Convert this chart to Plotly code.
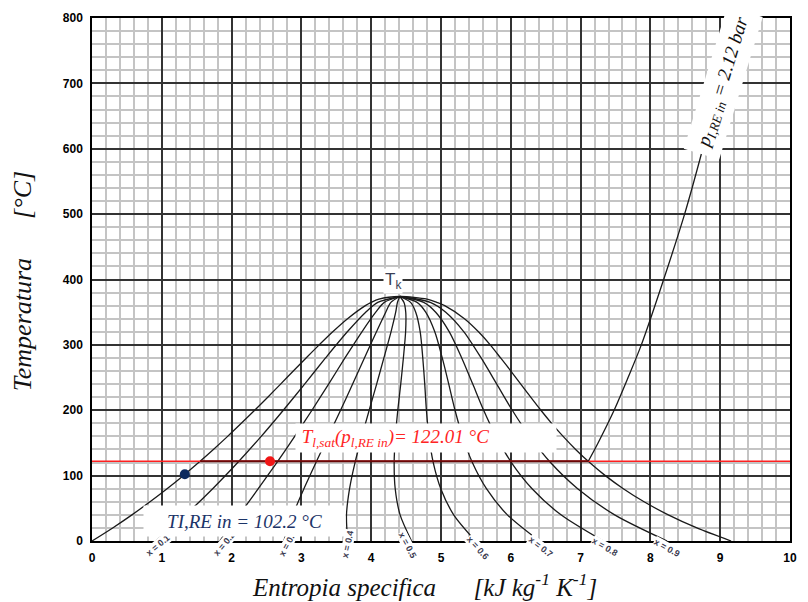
import plotly.graph_objects as go

# ---------------- DATA ----------------
# Saturation curve of water (T in degC, s in kJ/kg/K)
T_sat = [0, 20, 40, 60, 80, 100, 120, 140, 160, 180, 200, 220, 240, 260, 280,
         300, 320, 340, 360, 365, 370, 374]
s_liq = [0.0, 0.296, 0.572, 0.831, 1.075, 1.307, 1.528, 1.739, 1.943, 2.139, 2.331,
         2.518, 2.702, 2.884, 3.067, 3.255, 3.449, 3.661, 3.916, 4.00, 4.11, 4.41]
s_vap = [9.156, 8.666, 8.256, 7.909, 7.612, 7.354, 7.129, 6.929, 6.750, 6.585, 6.431,
         6.285, 6.143, 6.001, 5.854, 5.705, 5.537, 5.336, 5.053, 4.94, 4.80, 4.41]

# Constant-quality lines (x = 0.1 ... 0.9)
T_q = [0, 40, 80, 120, 160, 200, 240, 280, 320, 350, 365, 374]
quality_names = ["x = 0.1", "x = 0.2", "x = 0.3", "x = 0.4", "x = 0.5",
                 "x = 0.6", "x = 0.7", "x = 0.8", "x = 0.9"]
s_q01 = [0.916, 1.340, 1.729, 2.088, 2.424, 2.741, 3.046, 3.346, 3.658, 3.921, 4.094, 4.41]
s_q02 = [1.831, 2.109, 2.382, 2.648, 2.904, 3.151, 3.390, 3.624, 3.867, 4.065, 4.188, 4.41]
s_q03 = [2.747, 2.877, 3.036, 3.208, 3.385, 3.561, 3.734, 3.903, 4.075, 4.208, 4.282, 4.41]
s_q04 = [3.662, 3.646, 3.690, 3.768, 3.866, 3.971, 4.078, 4.182, 4.284, 4.351, 4.376, 4.41]
s_q05 = [4.578, 4.414, 4.344, 4.329, 4.347, 4.381, 4.423, 4.461, 4.493, 4.495, 4.470, 4.41]
s_q06 = [5.494, 5.182, 4.997, 4.889, 4.827, 4.791, 4.767, 4.739, 4.702, 4.638, 4.564, 4.41]
s_q07 = [6.409, 5.951, 5.651, 5.449, 5.308, 5.201, 5.111, 5.018, 4.911, 4.781, 4.658, 4.41]
s_q08 = [7.325, 6.719, 6.305, 6.009, 5.789, 5.611, 5.455, 5.297, 5.119, 4.924, 4.752, 4.41]
s_q09 = [8.240, 7.488, 6.958, 6.569, 6.270, 6.021, 5.799, 5.575, 5.328, 5.068, 4.846, 4.41]
quality_lines = [s_q01, s_q02, s_q03, s_q04, s_q05, s_q06, s_q07, s_q08, s_q09]

# Isobar p = 2.12 bar
T_boil = 122.01
s_boil_liq = 1.55
s_boil_vap = 7.11
T_iso = [122.01, 150, 200, 250, 300, 400, 500, 600, 700, 800]
s_iso = [7.11, 7.25, 7.48, 7.68, 7.87, 8.19, 8.49, 8.75, 8.99, 9.22]

# Marked states
s_red, T_red = 2.55, 122.01
s_blue, T_blue = 1.33, 102.2

x_ticks = [0, 1, 2, 3, 4, 5, 6, 7, 8, 9, 10]
y_ticks = [0, 100, 200, 300, 400, 500, 600, 700, 800]

# ---------------- FIGURE ----------------
fig = go.Figure()
line_style = dict(color="#1a1a1a", width=1.3)

# Dome
fig.add_trace(go.Scatter(x=s_liq + s_vap[::-1][1:], y=T_sat + T_sat[::-1][1:],
                         mode="lines", line=dict(shape="spline", smoothing=0.8, **line_style),
                         hoverinfo="skip"))
for s_line, name in zip(quality_lines, quality_names):
    fig.add_trace(go.Scatter(x=s_line, y=T_q, mode="lines", name=name,
                             line=dict(shape="spline", smoothing=0.8, **line_style)))

# Red saturation-temperature line
fig.add_trace(go.Scatter(x=[0, 10], y=[T_boil, T_boil], mode="lines",
                         line=dict(color="#ff2020", width=1.3)))
# Isobar: evaporation segment + superheated
fig.add_trace(go.Scatter(x=[s_boil_liq, s_boil_vap], y=[T_boil, T_boil], mode="lines",
                         line=dict(color="#6a0808", width=2)))
fig.add_trace(go.Scatter(x=s_iso, y=T_iso, mode="lines",
                         line=dict(shape="spline", smoothing=0.8, **line_style)))

# Points
fig.add_trace(go.Scatter(x=[s_red], y=[T_red], mode="markers",
                         marker=dict(color="#f01515", size=10)))
fig.add_trace(go.Scatter(x=[s_blue], y=[T_blue], mode="markers",
                         marker=dict(color="#0c2a5e", size=10)))

serif = "Liberation Serif"

ann = []
# quality labels just below the bottom axis (x in data units, y in paper units)
q_pos = [(0.95, -0.008, -40), (1.89, -0.005, -50), (2.81, -0.004, -62), (3.66, -0.005, -78),
         (4.52, -0.007, 62), (5.53, -0.013, 48), (6.43, -0.011, 38), (7.35, -0.011, 30),
         (8.24, -0.013, 29)]
for (xq, yq, ang), name in zip(q_pos, quality_names):
    ann.append(dict(x=xq, y=yq, xref="x", yref="paper", text=name, showarrow=False,
                    textangle=ang, xanchor="center", yanchor="middle",
                    font=dict(family="Liberation Sans", size=9, color="#3a3a50", weight="bold"),
                    bgcolor="white", borderpad=0))

ann += [
    dict(x=4.31, y=397, text="T<sub>k</sub>", showarrow=False,
         font=dict(family="Liberation Sans", size=17, color="#3b3f55"), bgcolor="white", borderpad=1),
    dict(x=4.79, y=157, text="<i>\u00a0T<sub>l,sat</sub>(p<sub>l,RE in</sub>)= 122.01 °C</i>",
         showarrow=False, width=258, height=26, align="left", bgcolor="white",
         font=dict(family=serif, size=19, color="#ff2424")),
    dict(x=2.19, y=31, text="<i>TI,RE in = 102.2 °C</i>", showarrow=False,
         width=199, height=28, bgcolor="white",
         font=dict(family=serif, size=19, color="#1c3468")),
    dict(x=9.04, y=701, text="<i>p<sub>I,RE in</sub> = 2.12 bar</i>", showarrow=False,
         textangle=-73, bgcolor="white", borderpad=6,
         font=dict(family=serif, size=19, color="#111")),
    dict(xref="paper", yref="paper", x=0.476, y=-0.084, yanchor="middle",
         text="<i>Entropia specifica" + "\u00a0" * 6 + "[kJ kg<sup>-1</sup> K<sup>-1</sup>]</i>",
         showarrow=False, font=dict(family=serif, size=25, color="#111")),
    dict(xref="paper", yref="paper", x=-0.1, y=0.497, xanchor="center", yanchor="middle",
         text="<i>Temperatura" + "\u00a0" * 6 + "[°C]</i>", textangle=-90,
         showarrow=False, font=dict(family=serif, size=26, color="#111")),
]

tickfont = dict(family="Liberation Sans", size=12, color="black", weight="bold")
fig.update_layout(
    width=808, height=602,
    margin=dict(l=92, r=11, t=15, b=61),
    paper_bgcolor="white", plot_bgcolor="white",
    showlegend=False,
    annotations=ann,
    xaxis=dict(range=[0, 10], tickvals=x_ticks, ticktext=[str(v) for v in x_ticks],
               showgrid=True, gridcolor="#333333", gridwidth=1.5,
               minor=dict(dtick=0.2, showgrid=True, gridcolor="#c4c4c4", gridwidth=1.7),
               showline=True, linecolor="black", linewidth=1.5, mirror=True,
               zeroline=False, tickfont=tickfont, ticks="", ticklabelstandoff=5),
    yaxis=dict(range=[0, 800], tickvals=y_ticks, ticktext=[str(v) for v in y_ticks],
               showgrid=True, gridcolor="#333333", gridwidth=1.5,
               minor=dict(dtick=20, showgrid=True, gridcolor="#c4c4c4", gridwidth=1.7),
               showline=True, linecolor="black", linewidth=1.5, mirror=True,
               zeroline=False, tickfont=tickfont, ticks="", ticklabelstandoff=5),
)

fig.write_html("out.html")
